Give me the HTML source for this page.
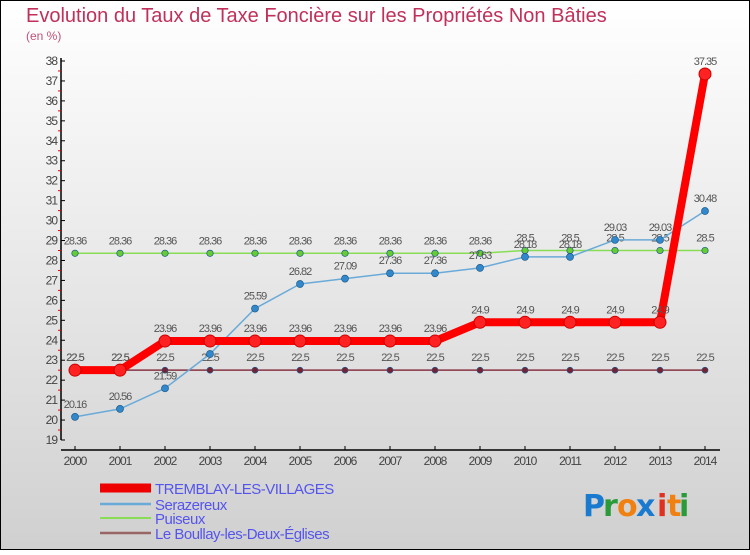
<!DOCTYPE html>
<html><head><meta charset="utf-8"><style>
html,body{margin:0;padding:0}
body{width:750px;height:550px;overflow:hidden;font-family:"Liberation Sans",sans-serif}
</style></head><body>
<svg id="c" width="750" height="550" xmlns="http://www.w3.org/2000/svg">
<defs><linearGradient id="bg" x1="0" y1="0" x2="0" y2="1"><stop offset="0" stop-color="#ffffff"/><stop offset="1" stop-color="#d0d0d0"/></linearGradient></defs>
<rect x="0.5" y="0.5" width="749" height="549" fill="url(#bg)" stroke="#000"/>
<text x="26" y="22" font-size="20" fill="#c0305a">Evolution du Taux de Taxe Foncière sur les Propriétés Non Bâties</text>
<text x="26" y="40" font-size="12" fill="#c0507a">(en %)</text>
<g id="axes"></g><g id="series"></g><g id="legend"></g>
<g font-size="30" font-family="'DejaVu Sans',sans-serif" font-weight="bold">
<text x="583" y="516" fill="#1a7ad0">P</text><text x="603" y="516" fill="#2a9a3a">r</text><text x="617" y="516" fill="#f08010">o</text><text x="636" y="516" fill="#1a7ad0">x</text><text x="657" y="516" fill="#e03020">i</text><text x="667" y="516" fill="#f08010">t</text><text x="679" y="516" fill="#2a9a3a">i</text>
</g>
</svg>
<script>
const years=[2000,2001,2002,2003,2004,2005,2006,2007,2008,2009,2010,2011,2012,2013,2014];
const tremblay=[22.5,22.5,23.96,23.96,23.96,23.96,23.96,23.96,23.96,24.9,24.9,24.9,24.9,24.9,37.35];
const serazereux=[20.16,20.56,21.59,23.31,25.59,26.82,27.09,27.36,27.36,27.63,28.18,28.18,29.03,29.03,30.48];
const puiseux=[28.36,28.36,28.36,28.36,28.36,28.36,28.36,28.36,28.36,28.36,28.5,28.5,28.5,28.5,28.5];
const boullay=[22.5,22.5,22.5,22.5,22.5,22.5,22.5,22.5,22.5,22.5,22.5,22.5,22.5,22.5,22.5];
const yTicks=[19,20,21,22,23,24,25,26,27,28,29,30,31,32,33,34,35,36,37,38];
const seriesNames=["TREMBLAY-LES-VILLAGES","Serazereux","Puiseux","Le Boullay-les-Deux-Églises"];
const NS="http://www.w3.org/2000/svg";
const X=i=>75+i*(630/14);
const Y=v=>440-(v-19)*(379/19);
function mk(t,a,p){const e=document.createElementNS(NS,t);for(const k in a)e.setAttribute(k,a[k]);p.appendChild(e);return e;}
const ax=document.getElementById('axes');
let l=mk('line',{x1:61,y1:58,x2:61,y2:440,stroke:'#000','stroke-width':1.5},ax);


l=mk('line',{x1:61,y1:450,x2:720,y2:450,stroke:'#000','stroke-width':1.5},ax);


yTicks.forEach(v=>{
  mk('line',{x1:61,y1:Y(v),x2:65,y2:Y(v),stroke:'#000'},ax);
  if(v<38)mk('line',{x1:58,y1:Y(v+0.5),x2:61,y2:Y(v+0.5),stroke:'#e00'},ax);
  const t=mk('text',{x:57,y:Y(v)+4,'font-size':12,'text-anchor':'end',fill:'#444','letter-spacing':'-1'},ax);t.textContent=v;
  
  
});
years.forEach((yr,i)=>{
  mk('line',{x1:X(i),y1:446,x2:X(i),y2:450,stroke:'#000'},ax);
  const t=mk('text',{x:X(i),y:465,'font-size':12,'text-anchor':'middle',fill:'#444','letter-spacing':'-1'},ax);t.textContent=yr;
  
  
});
const sg=document.getElementById('series');
function draw(vals,color,w,r,dot,name){
  const g=mk('g',{},sg);
  
  
  mk('polyline',{points:vals.map((v,i)=>X(i)+','+Y(v)).join(' '),fill:'none',stroke:color,'stroke-width':w,'stroke-linejoin':'round'},g);
  vals.forEach((v,i)=>{
    const c=mk('circle',{cx:X(i),cy:Y(v),r:r,fill:dot,stroke:color==='#ff0000'?'#c00':'#1a5a8a','stroke-width':color==='#ff0000'?1:0.7},g);
    
    
    const t=mk('text',{x:X(i),y:Y(v)-9,'font-size':11,'text-anchor':'middle',fill:'#555','letter-spacing':'-1'},g);t.textContent=v;
  });
}
draw(puiseux,'#88dd55',1.5,3.2,'#66cc33','series-puiseux');
draw(boullay,'#883344',1.5,3,'#772233','series-boullay');
draw(serazereux,'#6aaad8',1.5,3.5,'#3388cc','series-serazereux');
draw(tremblay,'#ff0000',8,6,'#ff2222','series-tremblay');
const lg=document.getElementById('legend');
const lc=['#ee0000','#6aaad8','#88dd55','#996666'],lw=[9,2.5,2,2.5],ly=[493,509,523,538];
seriesNames.forEach((n,i)=>{
  const g=mk('g',{},lg);
  
  
  mk('line',{x1:100,y1:ly[i]-5,x2:151,y2:ly[i]-5,stroke:lc[i],'stroke-width':lw[i]},g);
  const t=mk('text',{x:155,y:ly[i]+1,'font-size':15,fill:'#5555ee','letter-spacing':'-0.5'},g);t.textContent=n;
});
</script>
</body></html>
